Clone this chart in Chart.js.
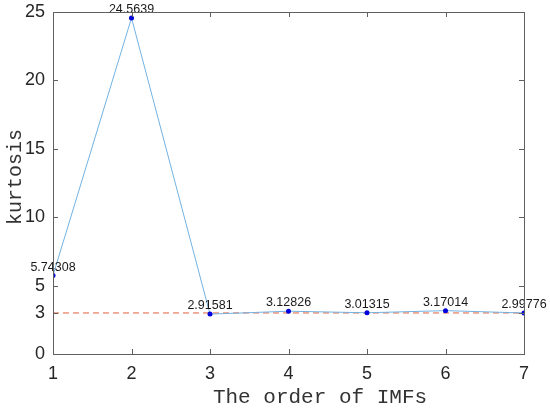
<!DOCTYPE html>
<html>
<head>
<meta charset="utf-8">
<script src="https://cdn.jsdelivr.net/npm/chart.js@4"></script>
<style>
  html, body { margin: 0; padding: 0; background: #fff; }
  #wrap { width: 550px; height: 413px; }
</style>
</head>
<body>
<div id="wrap"><canvas id="kurtChart" width="550" height="413"></canvas></div>
<script>
const imfOrder = [1, 2, 3, 4, 5, 6, 7];
const kurtosis = [5.74308, 24.5639, 2.91581, 3.12826, 3.01315, 3.17014, 2.99776];
const threshold = 3;
const yTicks = [0, 3, 5, 10, 15, 20, 25];

// data labels above each point + box with inward ticks (MATLAB style)
const matlabLook = {
  id: "matlabLook",
  afterDatasetsDraw(chart) {
    const ctx = chart.ctx;
    const meta = chart.getDatasetMeta(0);
    ctx.save();
    ctx.font = "12.5px 'Liberation Sans'";
    ctx.fillStyle = "#1a1a1a";
    ctx.textAlign = "center";
    ctx.textBaseline = "bottom";
    meta.data.forEach((pt, i) => {
      ctx.fillText(String(kurtosis[i]), pt.x, pt.y - 2);
    });
    ctx.restore();
  },
  afterDraw(chart) {
    const { ctx, chartArea: a, scales } = chart;
    ctx.save();
    ctx.strokeStyle = "#606060";
    ctx.lineWidth = 1;
    ctx.strokeRect(Math.round(a.left) + 0.5, Math.round(a.top) + 0.5,
      Math.round(a.right - a.left), Math.round(a.bottom - a.top));
    const tl = 5;
    ctx.beginPath();
    scales.x.ticks.forEach((t) => {
      const px = Math.round(scales.x.getPixelForValue(t.value)) + 0.5;
      ctx.moveTo(px, a.bottom); ctx.lineTo(px, a.bottom - tl);
      ctx.moveTo(px, a.top); ctx.lineTo(px, a.top + tl);
    });
    scales.y.ticks.forEach((t) => {
      const py = Math.round(scales.y.getPixelForValue(t.value)) + 0.5;
      ctx.moveTo(a.left, py); ctx.lineTo(a.left + tl, py);
      ctx.moveTo(a.right, py); ctx.lineTo(a.right - tl, py);
    });
    ctx.stroke();
    ctx.restore();
  }
};

const ctx = document.getElementById("kurtChart").getContext("2d");
new Chart(ctx, {
  type: "line",
  data: {
    datasets: [
      {
        label: "kurtosis",
        data: imfOrder.map((x, i) => ({ x: x, y: kurtosis[i] })),
        borderColor: "#72b2e2",
        borderWidth: 1,
        pointRadius: 2.5,
        pointBackgroundColor: "#0000dd",
        pointBorderColor: "#0000dd",
        pointBorderWidth: 0,
        tension: 0
      },
      {
        label: "threshold",
        data: [
          { x: imfOrder[0], y: threshold },
          { x: imfOrder[imfOrder.length - 1], y: threshold }
        ],
        borderColor: "#e0603a",
        borderWidth: 1,
        borderDash: [6, 4],
        pointRadius: 0
      }
    ]
  },
  options: {
    responsive: false,
    animation: false,
    layout: { padding: { top: 12, right: 26, left: 0, bottom: 0 } },
    plugins: { legend: { display: false }, tooltip: { enabled: false } },
    scales: {
      x: {
        type: "linear",
        min: 1,
        max: 7,
        grid: { display: false, drawTicks: false },
        border: { display: false },
        ticks: {
          stepSize: 1,
          padding: 9,
          color: "#262626",
          font: { family: "Liberation Sans", size: 18 }
        },
        title: {
          display: true,
          text: "     The order of IMFs",
          color: "#333",
          font: { family: "Liberation Mono", size: 21 },
          padding: { top: 0, bottom: 3 }
        },
        afterFit(scale) {
          scale.height = 59;
          scale.paddingLeft = 0;
          scale.paddingRight = 0;
        }
      },
      y: {
        min: 0,
        max: 25,
        grid: { display: false, drawTicks: false },
        border: { display: false },
        afterBuildTicks(scale) {
          scale.ticks = yTicks.map((v) => ({ value: v }));
        },
        ticks: {
          padding: 8,
          color: "#262626",
          font: { family: "Liberation Sans", size: 18 }
        },
        title: {
          display: true,
          text: " kurtosis",
          color: "#333",
          font: { family: "Liberation Mono", size: 20 },
          padding: { top: 4, bottom: 0 }
        },
        afterFit(scale) {
          scale.width = 53;
          scale.paddingTop = 0;
          scale.paddingBottom = 0;
        }
      }
    }
  },
  plugins: [matlabLook]
});
</script>
</body>
</html>
